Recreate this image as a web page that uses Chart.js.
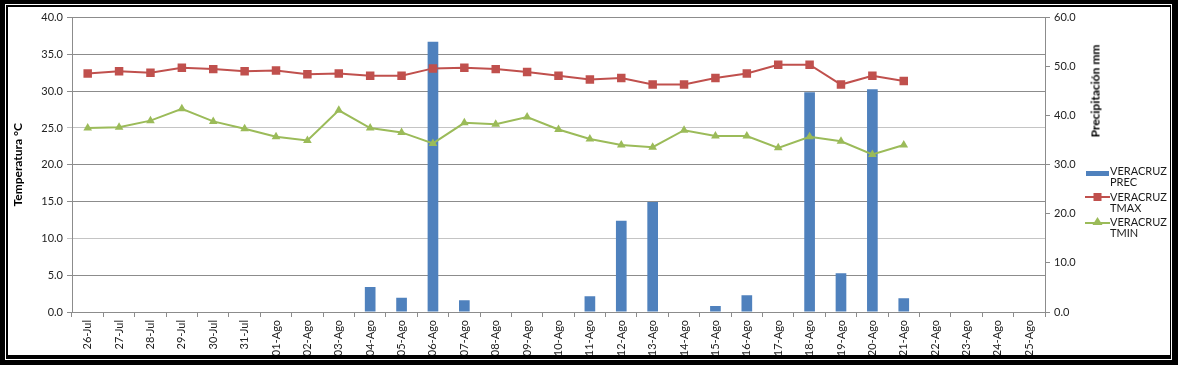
<!DOCTYPE html>
<html>
<head>
<meta charset="utf-8">
<script src="https://cdn.jsdelivr.net/npm/chart.js@4.4.1/dist/chart.umd.min.js"></script>
<style>
  body { margin: 0; background: #000; width: 1178px; height: 365px; overflow: hidden; font-family: Lato, "Liberation Sans", sans-serif; }
  #frame { position: absolute; left: 5px; top: 4px; width: 1167px; height: 356px; border: 1px solid #fff; box-sizing: border-box; }
  #panel { position: absolute; left: 8px; top: 7px; width: 1162px; height: 348px; background: #fff; }
  #chart { position: absolute; left: 0; top: 0; }
  #rtitle { position: absolute; left: 1087px; top: 84px; transform: translate(-50%, -50%) rotate(-90deg); white-space: nowrap; font: bold 12px Lato, sans-serif; color: #000; }
  .leg { position: absolute; left: 1077px; width: 95px; height: 24px; }
  .leg svg { position: absolute; left: 0; top: 0; }
  .leg span { position: absolute; left: 25px; top: -6px; width: 62px; font-size: 11px; line-height: 11px; color: #1a1a1a; }
</style>
</head>
<body>
<div id="frame"></div>
<div id="panel">
  <canvas id="chart" width="1162" height="348"></canvas>
  <div id="rtitle">Precipitación mm</div>
  <div class="leg" style="top:164px">
    <svg width="26" height="12"><rect x="1" y="-2.5" width="23" height="5" fill="#4F81BD" transform="translate(0,2.5)"/></svg>
    <span id="leg0"></span>
  </div>
  <div class="leg" style="top:190px">
    <svg width="26" height="12" style="top:-6px"><line x1="0" y1="6" x2="25" y2="6" stroke="#C0504D" stroke-width="2"/><rect x="8.5" y="2" width="8" height="8" fill="#C0504D"/></svg>
    <span id="leg1"></span>
  </div>
  <div class="leg" style="top:215px">
    <svg width="26" height="12" style="top:-6px"><line x1="0" y1="7" x2="25" y2="7" stroke="#9BBB59" stroke-width="2"/><polygon points="12.5,1 17.5,9 7.5,9" fill="#9BBB59"/></svg>
    <span id="leg2"></span>
  </div>
</div>
<script>
// dias del periodo
const categories = ['26-Jul', '27-Jul', '28-Jul', '29-Jul', '30-Jul', '31-Jul',
  '01-Ago', '02-Ago', '03-Ago', '04-Ago', '05-Ago', '06-Ago', '07-Ago', '08-Ago', '09-Ago', '10-Ago',
  '11-Ago', '12-Ago', '13-Ago', '14-Ago', '15-Ago', '16-Ago', '17-Ago', '18-Ago', '19-Ago', '20-Ago',
  '21-Ago', '22-Ago', '23-Ago', '24-Ago', '25-Ago'];

const seriesLabels = ['VERACRUZ PREC', 'VERACRUZ TMAX', 'VERACRUZ TMIN'];

// precipitacion (mm)
const precValues = [0, 0, 0, 0, 0, 0, 0, 0, 0, 5.1, 2.9, 55.1, 2.4, 0, 0, 0,
  3.2, 18.6, 22.4, 0, 1.2, 3.4, 0, 44.8, 7.9, 45.4, 2.8, null, null, null, null];

// temperatura maxima
const tmaxValues = [32.4, 32.7, 32.5, 33.2, 33.0, 32.7, 32.8, 32.3, 32.4, 32.1, 32.1, 33.1, 33.2, 33.0, 32.6, 32.1,
  31.6, 31.8, 30.9, 30.9, 31.8, 32.4, 33.6, 33.6, 30.9, 32.1, 31.4, null, null, null, null];

// temperatura minima
const tminValues = [25.0, 25.1, 26.0, 27.6, 25.9, 24.9, 23.8, 23.3, 27.4, 25.0, 24.4, 22.9, 25.7, 25.5, 26.5, 24.8,
  23.5, 22.7, 22.4, 24.7, 23.9, 23.9, 22.3, 23.8, 23.2, 21.4, 22.7, null, null, null, null];

const tempTicks = [0, 5, 10, 15, 20, 25, 30, 35, 40];
const precTicks = [0, 10, 20, 30, 40, 50, 60];

seriesLabels.forEach((t, i) => { document.getElementById('leg' + i).textContent = t; });

const tickFont = { family: 'Lato, sans-serif', size: 11 };
const axisGray = '#8c8c8c';

const ctx = document.getElementById('chart').getContext('2d');
const chart = new Chart(ctx, {
    type: 'bar',
    data: {
        labels: categories,
        datasets: [{
            type: 'line',
            label: seriesLabels[1],
            data: tmaxValues,
            yAxisID: 'y',
            borderColor: '#C0504D',
            backgroundColor: '#C0504D',
            borderWidth: 2,
            pointStyle: 'rect',
            pointRadius: 6,
            pointBorderWidth: 0,
            tension: 0,
            order: 1
        }, {
            type: 'line',
            label: seriesLabels[2],
            data: tminValues,
            yAxisID: 'y',
            borderColor: '#9BBB59',
            backgroundColor: '#9BBB59',
            borderWidth: 2,
            pointStyle: 'triangle',
            pointRadius: 5,
            pointBorderWidth: 0,
            tension: 0,
            order: 2
        }, {
            type: 'bar',
            label: seriesLabels[0],
            data: precValues,
            yAxisID: 'y1',
            backgroundColor: '#4F81BD',
            categoryPercentage: 1,
            barPercentage: 0.34,
            order: 3
        }]
    },
    options: {
        responsive: false,
        animation: false,
        layout: { padding: { left: 0, right: 85, top: 9, bottom: 0 } },
        scales: {
            x: {
                afterFit: s => { s.height = 43; },
                grid: { drawOnChartArea: false, drawTicks: true, tickLength: 5, color: axisGray },
                border: { color: axisGray },
                ticks: { font: tickFont, color: '#222', minRotation: 90, maxRotation: 90, autoSkip: false, padding: 3 }
            },
            y: {
                position: 'left',
                min: 0,
                max: 40,
                afterFit: s => { s.width = 64; },
                afterBuildTicks: s => { s.ticks = tempTicks.map(v => ({ value: v })); },
                grid: {
                    tickLength: 5,
                    color: c => (c.tick && (c.tick.value === 25 || c.tick.value === 10)) ? '#c4c4c4' : axisGray
                },
                border: { color: axisGray },
                title: { display: true, text: 'Temperatura °C', color: '#000', font: { family: 'Lato, sans-serif', size: 12, weight: 'bold' }, padding: { top: 3, bottom: 0 } },
                ticks: { font: tickFont, color: '#222', padding: 4, callback: v => v.toFixed(1) }
            },
            y1: {
                position: 'right',
                min: 0,
                max: 60,
                afterFit: s => { s.width = 40; },
                afterBuildTicks: s => { s.ticks = precTicks.map(v => ({ value: v })); },
                grid: { drawOnChartArea: false, tickLength: 5, color: axisGray },
                border: { color: axisGray },
                ticks: { font: tickFont, color: '#222', padding: 4, callback: v => v.toFixed(1) }
            }
        },
        plugins: {
            legend: { display: false },
            tooltip: { enabled: false }
        }
    }
});
</script>
</body>
</html>
